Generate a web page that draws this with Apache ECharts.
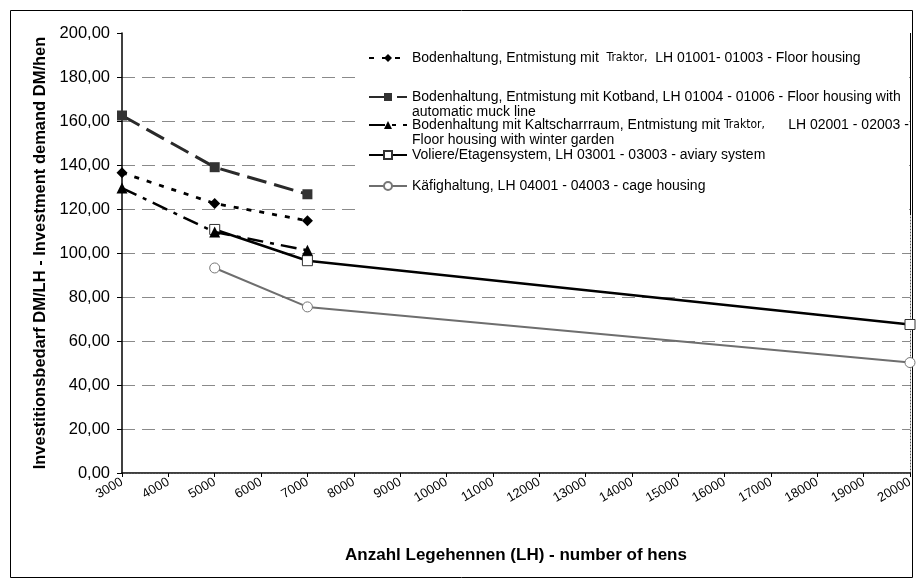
<!DOCTYPE html>
<html>
<head>
<meta charset="utf-8">
<script src="https://cdn.jsdelivr.net/npm/echarts@6/dist/echarts.min.js"></script>
<style>html,body{margin:0;padding:0;background:#fff;}#c{width:921px;height:585px;}</style>
</head>
<body>
<div id="c"></div>
<script>
// ---- data ----
const xTicks = [3000, 20000, 1000];          // min, max, interval of x axis
const yTicks = [0, 200, 20];                 // min, max, interval of y axis
const xFloor = [3000, 5000, 7000];
const floorTractor = [136.5, 122.5, 114.7];
const floorBelt = [162.5, 139.0, 126.7];
const winterGarden = [129.5, 109.5, 101.2];
const xAviary = [5000, 7000, 20000];
const aviary = [110.7, 96.5, 67.5];
const cage = [93.2, 75.5, 50.2];

const names = [
  'Bodenhaltung, Entmistung mit Traktor, LH 01001- 01003 - Floor housing',
  'Bodenhaltung, Entmistung mit Kotband, LH 01004 - 01006 - Floor housing with automatic muck line',
  'Bodenhaltung mit Kaltscharrraum, Entmistung mit Traktor, LH 02001 - 02003 - Floor housing with winter garden',
  'Voliere/Etagensystem, LH 03001 - 03003 - aviary system',
  'Käfighaltung, LH 04001 - 04003 - cage housing'
];
const legendLabels = [
  '{a|Bodenhaltung, Entmistung mit  }{s|Traktor,}{a|  LH 01001- 01003 - Floor housing}',
  '{a| }\n{a|Bodenhaltung, Entmistung mit Kotband, LH 01004 - 01006 - Floor housing with}\n{a|automatic muck line}',
  '{a| }\n{a|Bodenhaltung mit Kaltscharrraum, Entmistung mit }{s|Traktor,}{a|      LH 02001 - 02003 -}\n{a|Floor housing with winter garden}',
  '{a|Voliere/Etagensystem, LH 03001 - 03003 - aviary system}',
  '{a|Käfighaltung, LH 04001 - 04003 - cage housing}'
];

const pair = (xs, ys) => xs.map((x, i) => [x, ys[i]]);
const FONT = 'Liberation Sans, Arial, sans-serif';
const LH = 15;

const chart = echarts.init(document.getElementById('c'), null, {renderer: 'canvas'});

const legendRows = [58, 97, 125, 155, 186];
const multi = [false, true, true, false, false];
const legends = names.map((n, i) => ({
  data: [n],
  left: 368,
  top: multi[i] ? legendRows[i] - LH * 1.5 : legendRows[i] - LH / 2,
  itemWidth: 38,
  itemHeight: 10,
  itemGap: 0,
  padding: 0,
  z: 5,
  selectedMode: false,
  formatter: () => legendLabels[i],
  textStyle: {
    fontFamily: FONT, fontSize: 14, color: '#000', lineHeight: LH,
    rich: {
      a: {fontFamily: FONT, fontSize: 14, color: '#000', lineHeight: LH},
      s: {fontFamily: 'DejaVu Sans Condensed, Liberation Sans Narrow, sans-serif', fontSize: 12, color: '#000', lineHeight: LH}
    }
  }
}));

const gridColors = [];
for (let v = yTicks[0]; v <= yTicks[1]; v += yTicks[2]) {
  gridColors.push(v === yTicks[0] || v === yTicks[1] ? 'rgba(0,0,0,0)' : '#8a8a8a');
}

chart.setOption({
  animation: false,
  backgroundColor: '#fff',
  textStyle: {fontFamily: FONT},
  graphic: [{
    type: 'rect', shape: {x: 10.5, y: 10.5, width: 902, height: 567},
    style: {fill: 'none', stroke: '#000', lineWidth: 1}, z: -1
  }, {
    type: 'rect', shape: {x: 362, y: 40, width: 547, height: 175},
    style: {fill: '#fff', stroke: 'none'}, z: 1
  }, {
    type: 'line', shape: {x1: 910.5, y1: 33, x2: 910.5, y2: 215},
    style: {stroke: '#000', lineWidth: 1}, z: 1
  }],
  legend: legends,
  grid: {left: 122, right: 11, top: 33, bottom: 112, containLabel: false},
  xAxis: [{
    type: 'value', min: xTicks[0], max: xTicks[1], interval: xTicks[2],
    name: 'Anzahl Legehennen (LH) - number of hens',
    nameLocation: 'middle', nameGap: 74,
    nameTextStyle: {fontFamily: FONT, fontSize: 17, fontWeight: 'bold', color: '#000'},
    axisLine: {show: true, onZero: false, lineStyle: {color: '#000', width: 1.5}},
    axisTick: {show: true, length: 4, lineStyle: {color: '#000'}},
    axisLabel: {rotate: 30, fontSize: 13, color: '#000', margin: 8, fontFamily: FONT,
      formatter: v => String(v)},
    splitLine: {show: false}
  }, {
    type: 'value', position: 'top', min: xTicks[0], max: xTicks[1], interval: xTicks[2],
    axisLine: {show: true, lineStyle: {color: '#555', width: 1, type: [1, 2]}},
    axisTick: {show: false}, axisLabel: {show: false}, splitLine: {show: false}
  }],
  yAxis: [{
    type: 'value', min: yTicks[0], max: yTicks[1], interval: yTicks[2],
    name: 'Investitionsbedarf DM/LH - Investment demand DM/hen',
    nameLocation: 'middle', nameGap: 73,
    nameTextStyle: {fontFamily: FONT, fontSize: 16.5, fontWeight: 'bold', color: '#000'},
    axisLine: {show: true, lineStyle: {color: '#000', width: 1.5}},
    axisTick: {show: true, length: 5, lineStyle: {color: '#000'}},
    axisLabel: {fontSize: 16.5, color: '#000', margin: 12, fontFamily: FONT,
      formatter: v => v.toFixed(2).replace('.', ',')},
    splitLine: {show: true, lineStyle: {color: gridColors, width: 1.2, type: [13, 7]}}
  }, {
    type: 'value', position: 'right', min: yTicks[0], max: yTicks[1], interval: yTicks[2],
    axisLine: {show: true, lineStyle: {color: '#555', width: 1, type: [1, 2]}},
    axisTick: {show: false}, axisLabel: {show: false}, splitLine: {show: false}
  }],
  series: [{
    name: names[0], type: 'line', data: pair(xFloor, floorTractor),
    symbol: 'diamond', symbolSize: 11,
    itemStyle: {color: '#000'},
    lineStyle: {color: '#000', width: 2.8, type: [5, 8]}, z: 3
  }, {
    name: names[1], type: 'line', data: pair(xFloor, floorBelt),
    symbol: 'rect', symbolSize: 10,
    itemStyle: {color: '#333'},
    lineStyle: {color: '#2a2a2a', width: 3, type: [20, 8]}, z: 3
  }, {
    name: names[2], type: 'line', data: pair(xFloor, winterGarden),
    symbol: 'triangle', symbolSize: 11,
    itemStyle: {color: '#000'},
    lineStyle: {color: '#000', width: 2.5, type: [16, 7, 4, 7]}, z: 4
  }, {
    name: names[3], type: 'line', data: pair(xAviary, aviary),
    symbol: 'rect', symbolSize: 10,
    itemStyle: {color: '#fff', borderColor: '#333', borderWidth: 1},
    lineStyle: {color: '#000', width: 2.5}, z: 3
  }, {
    name: names[4], type: 'line', data: pair(xAviary, cage),
    symbol: 'circle', symbolSize: 10,
    itemStyle: {color: '#fff', borderColor: '#777', borderWidth: 1},
    lineStyle: {color: '#6e6e6e', width: 2}, z: 2
  }]
});
</script>
</body>
</html>
